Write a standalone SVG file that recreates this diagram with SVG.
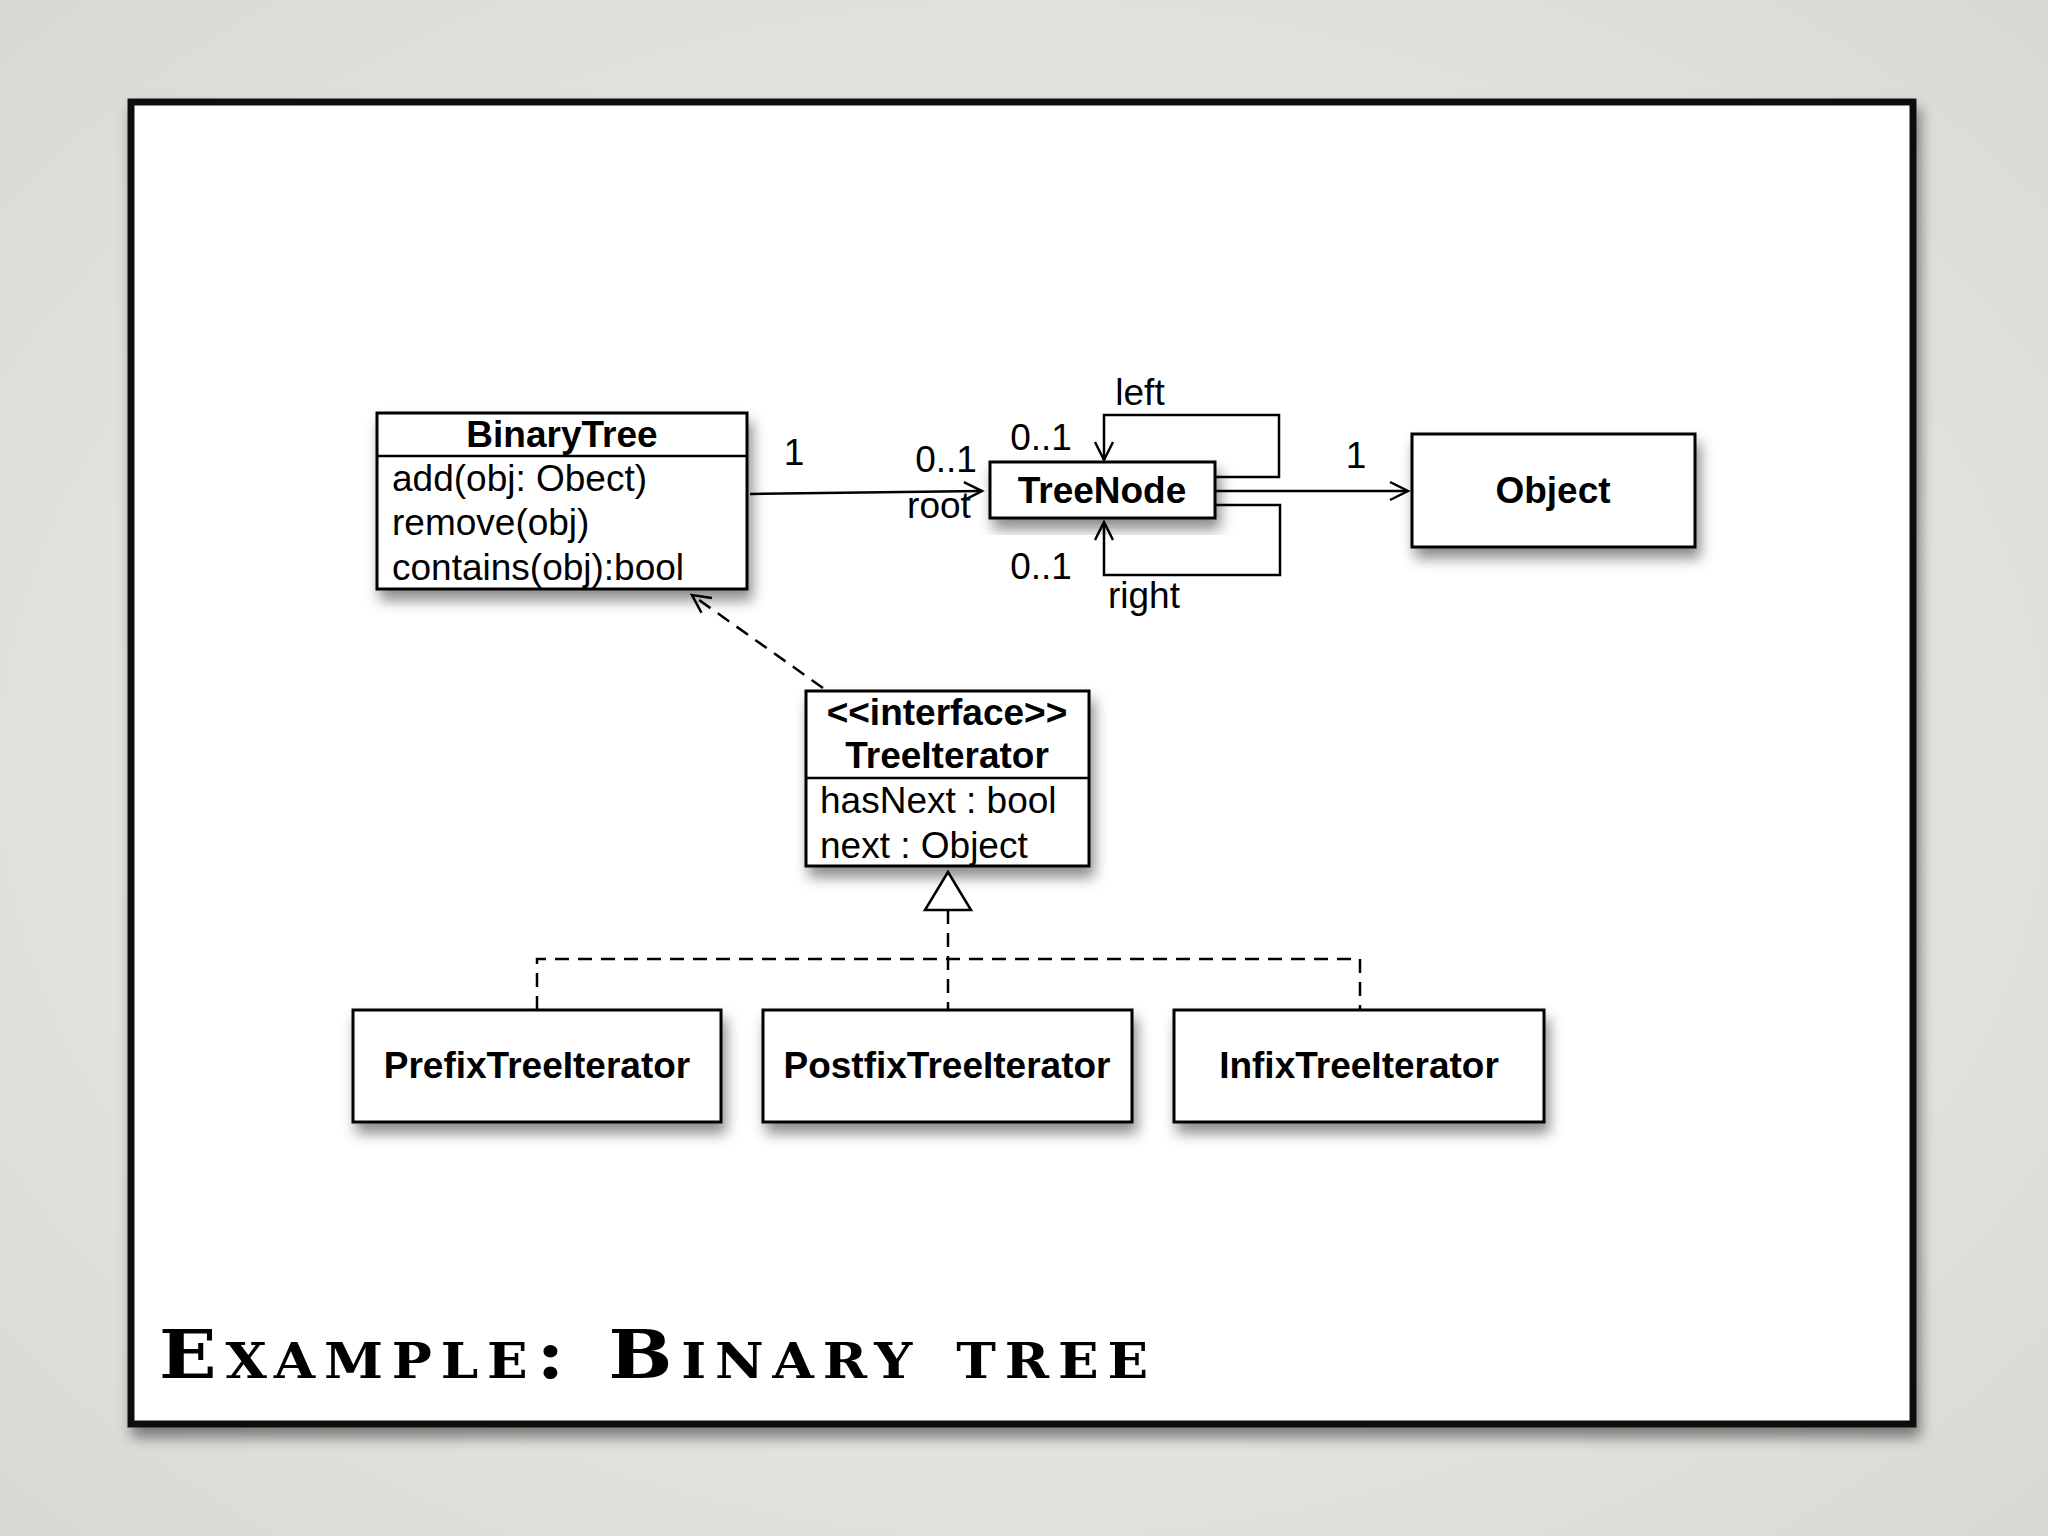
<svg xmlns="http://www.w3.org/2000/svg" width="2048" height="1536" viewBox="0 0 2048 1536">
<defs>
<radialGradient id="bg" cx="50%" cy="50%" r="75%"><stop offset="0" stop-color="#f4f4f2"/><stop offset="1" stop-color="#d6d6d2"/></radialGradient>
<filter id="sh" x="-10%" y="-10%" width="130%" height="140%"><feDropShadow dx="4" dy="10" stdDeviation="7" flood-color="#000" flood-opacity="0.45"/></filter>
<marker id="open" markerWidth="24" markerHeight="24" refX="20" refY="12" orient="auto" markerUnits="userSpaceOnUse"><path d="M2,3 L20,12 L2,21" fill="none" stroke="#000" stroke-width="2.5"/></marker>
</defs>
<style>
.box{fill:#fff;stroke:#000;stroke-width:3;filter:url(#sh)}
.t{font-family:"Liberation Sans",Arial,sans-serif;font-size:37px;fill:#000}
.b{font-weight:bold}
.ln{fill:none;stroke:#000;stroke-width:2.5}
.d{stroke-dasharray:14,9}
</style>
<rect width="2048" height="1536" fill="url(#bg)"/>
<rect x="131" y="102" width="1782" height="1322" fill="#fff" stroke="#111" stroke-width="7" filter="url(#sh)"/>
<g id="BinaryTree"><rect class="box" x="377" y="413" width="370" height="176"/><line class="ln" x1="377" y1="456" x2="747" y2="456" stroke-width="3"/>
<text class="t b" x="562" y="447" text-anchor="middle">BinaryTree</text>
<text class="t" x="392" y="491">add(obj: Obect)</text><text class="t" x="392" y="535">remove(obj)</text><text class="t" x="392" y="580">contains(obj):bool</text></g>
<g id="TreeNode"><rect class="box" x="990" y="462" width="225" height="56"/><text class="t b" x="1102" y="503" text-anchor="middle">TreeNode</text></g>
<g id="Object"><rect class="box" x="1412" y="434" width="283" height="113"/><text class="t b" x="1553" y="503" text-anchor="middle">Object</text></g>
<g id="TreeIterator"><rect class="box" x="806" y="691" width="283" height="175"/><line class="ln" x1="806" y1="778" x2="1089" y2="778" stroke-width="3"/>
<text class="t b" x="947" y="725" text-anchor="middle">&lt;&lt;interface&gt;&gt;</text><text class="t b" x="947" y="768" text-anchor="middle">TreeIterator</text>
<text class="t" x="820" y="813">hasNext : bool</text><text class="t" x="820" y="858">next : Object</text></g>
<g id="Prefix"><rect class="box" x="353" y="1010" width="368" height="112"/><text class="t b" x="537" y="1078" text-anchor="middle">PrefixTreeIterator</text></g>
<g id="Postfix"><rect class="box" x="763" y="1010" width="369" height="112"/><text class="t b" x="947" y="1078" text-anchor="middle">PostfixTreeIterator</text></g>
<g id="Infix"><rect class="box" x="1174" y="1010" width="370" height="112"/><text class="t b" x="1359" y="1078" text-anchor="middle">InfixTreeIterator</text></g>
<g id="connectors">
<line class="ln" x1="750" y1="494" x2="982" y2="491" marker-end="url(#open)"/>
<line class="ln" x1="1215" y1="491" x2="1408" y2="491" marker-end="url(#open)"/>
<polyline class="ln" points="1215,477 1279,477 1279,415 1104,415 1104,460" marker-end="url(#open)"/>
<polyline class="ln" points="1215,505 1280,505 1280,575 1104,575 1104,522" marker-end="url(#open)"/>
<line class="ln d" x1="823" y1="688" x2="692" y2="595" marker-end="url(#open)"/>
<polyline class="ln d" points="537,1010 537,959 1360,959 1360,1010"/>
<line class="ln d" x1="948" y1="910" x2="948" y2="1010"/>
<polygon points="948,872 925,910 971,910" fill="#fff" stroke="#000" stroke-width="2.5"/>
</g>
<g>
<text class="t" x="1140" y="405" text-anchor="middle">left</text>
<text class="t" x="1041" y="450" text-anchor="middle">0..1</text>
<text class="t" x="946" y="472" text-anchor="middle">0..1</text>
<text class="t" x="939" y="518" text-anchor="middle">root</text>
<text class="t" x="794" y="465" text-anchor="middle">1</text>
<text class="t" x="1356" y="468" text-anchor="middle">1</text>
<text class="t" x="1041" y="579" text-anchor="middle">0..1</text>
<text class="t" x="1144" y="608" text-anchor="middle">right</text>
</g>
<text x="159" y="1378" font-family="DejaVu Serif,serif" font-weight="bold" font-size="68" font-variant="small-caps" letter-spacing="8" textLength="998" lengthAdjust="spacingAndGlyphs" fill="#000">Example: Binary tree</text>
</svg>
